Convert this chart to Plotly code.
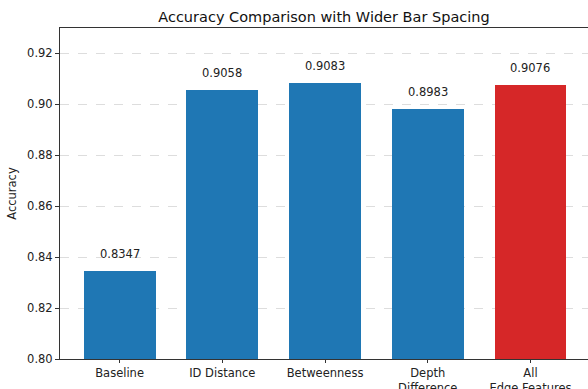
import plotly.graph_objects as go

categories = ["Baseline", "ID Distance", "Betweenness", "Depth<br>Difference", "All<br>Edge Features"]
accuracy = [0.8347, 0.9058, 0.9083, 0.8983, 0.9076]
bar_colors = ["#1f77b4", "#1f77b4", "#1f77b4", "#1f77b4", "#d62728"]
y_ticks = [0.80, 0.82, 0.84, 0.86, 0.88, 0.90, 0.92]

x_pos = list(range(len(categories)))
font = "DejaVu Sans, Verdana, sans-serif"

fig = go.Figure()
fig.add_trace(go.Bar(
    x=x_pos, y=accuracy, width=0.7,
    marker=dict(color=bar_colors, line=dict(width=0)),
))

for xp, v in zip(x_pos, accuracy):
    fig.add_annotation(x=xp, y=v, text=f"{v:.4f}", showarrow=False,
                       yanchor="bottom", yshift=8,
                       font=dict(family=font, size=11.5, color="#222"))

fig.update_layout(
    width=588, height=389,
    margin=dict(l=60, r=0, t=28, b=30, autoexpand=False),
    plot_bgcolor="white", paper_bgcolor="white",
    showlegend=False,
    font=dict(family=font, size=11.5, color="#222"),
    title=dict(text="Accuracy Comparison with Wider Bar Spacing", x=324/588, xanchor="center",
               y=1 - 17/389, yanchor="middle", font=dict(family=font, size=14.5, color="#111")),
    bargap=0,
)
fig.update_xaxes(
    range=[-0.58, 4.56], tickvals=x_pos, ticktext=categories, automargin=False,
    showline=True, linecolor="#333", linewidth=1, mirror=True,
    ticks="outside", ticklen=3, tickcolor="#333", showgrid=False, zeroline=False,
    tickfont=dict(size=11.5),
)
fig.update_yaxes(
    range=[0.80, 0.93], tickvals=y_ticks, ticktext=[f"{t:.2f}" for t in y_ticks], automargin=False,
    showline=True, linecolor="#333", linewidth=1, mirror=False,
    ticks="outside", ticklen=4, tickcolor="#333",
    showgrid=True, gridcolor="#dddddd", griddash="dash", gridwidth=1, zeroline=False,
    title=dict(text="Accuracy", standoff=8, font=dict(size=11.5)),
    tickfont=dict(size=11.5),
)

fig.write_html("out.html", config={"displayModeBar": False},
               post_script="document.body.style.margin='0';document.body.style.overflow='hidden';")
